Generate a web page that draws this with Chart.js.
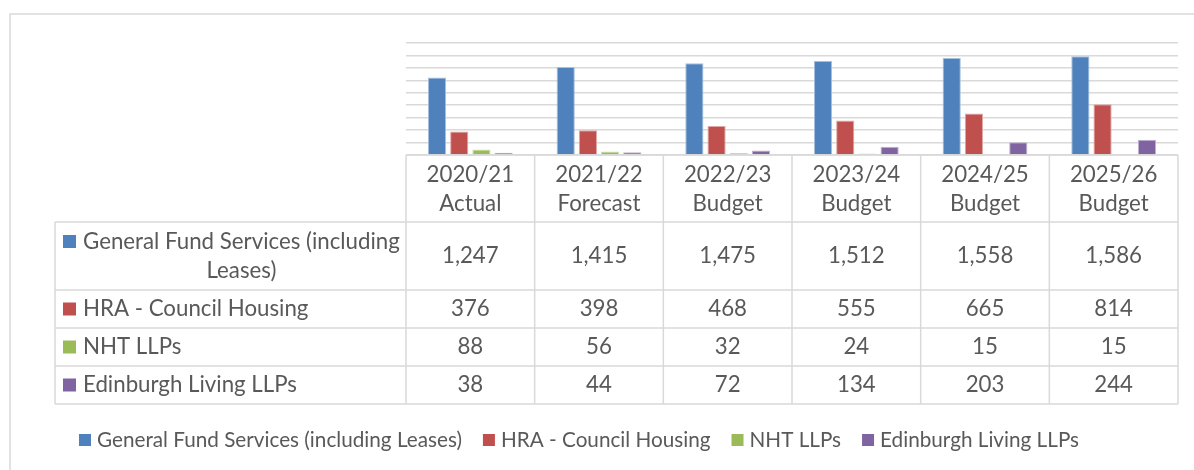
<!DOCTYPE html>
<html><head><meta charset="utf-8">
<script src="https://cdn.jsdelivr.net/npm/chart.js@4/dist/chart.umd.min.js"></script>
<style>html,body{margin:0;padding:0;background:#fff;}#wrap{position:relative;width:1194px;height:470px;}</style>
</head><body><div id="wrap"><canvas id="c" width="1194" height="470"></canvas></div>
<script>
const categories = [["2020/21","Actual"],["2021/22","Forecast"],["2022/23","Budget"],["2023/24","Budget"],["2024/25","Budget"],["2025/26","Budget"]];
const seriesNames = ["General Fund Services (including Leases)","HRA - Council Housing","NHT LLPs","Edinburgh Living LLPs"];
const generalFund = [1247,1415,1475,1512,1558,1586];
const hraCouncilHousing = [376,398,468,555,665,814];
const nhtLLPs = [88,56,32,24,15,15];
const edinburghLiving = [38,44,72,134,203,244];
const yMin = 0, yMax = 1800, yStep = 200;
const seriesColors = ['#4F81BD','#C0504D','#9BBB59','#8064A2'];
const seriesBorders = ['#A7C0DE','#E0A8A6','#CDDDAC','#BFB1D0'];
const allSeries = [generalFund, hraCouncilHousing, nhtLLPs, edinburghLiving];

const GRID = '#D9D9D9', TXT = '#595959', FAM = 'Lato, "Open Sans", sans-serif';
let fs = 21;
function fmt(v){ return v.toLocaleString('en-GB'); }
function wrap(ctx, text, maxW){
  const words = text.split(' '); const lines = []; let cur = '';
  for (const w of words){ const t = cur ? cur + ' ' + w : w;
    if (ctx.measureText(t).width > maxW && cur){ lines.push(cur); cur = w; } else cur = t; }
  if (cur) lines.push(cur); return lines;
}
const tablePlugin = {
  id: 'dataTable',
  beforeDraw(chart){
    const ctx = chart.ctx; ctx.save();
    ctx.font = '100px ' + FAM;
    fs = 100 * 317 / ctx.measureText('General Fund Services (including').width;
    ctx.strokeStyle = GRID; ctx.lineWidth = 1.5;
    ctx.beginPath(); ctx.moveTo(10, 470); ctx.lineTo(10, 14); ctx.lineTo(1194, 14); ctx.stroke();
    ctx.restore();
  },
  afterDraw(chart){
    const ctx = chart.ctx, ca = chart.chartArea, xs = chart.scales.x;
    const n = categories.length, colW = (ca.right - ca.left) / n;
    const rowB = [ca.bottom, 222, 290, 328, 366, 404];
    const tableLeft = 55;
    ctx.save();
    ctx.strokeStyle = GRID; ctx.lineWidth = 1.5;
    ctx.beginPath();
    ctx.moveTo(ca.left, rowB[0]); ctx.lineTo(ca.right, rowB[0]);
    for (let r = 1; r < rowB.length; r++){ ctx.moveTo(tableLeft, rowB[r]); ctx.lineTo(ca.right, rowB[r]); }
    ctx.moveTo(tableLeft, rowB[1]); ctx.lineTo(tableLeft, rowB[rowB.length-1]);
    for (let i = 0; i <= n; i++){ const x = ca.left + i*colW; ctx.moveTo(x, rowB[0]); ctx.lineTo(x, rowB[rowB.length-1]); }
    ctx.stroke();
    ctx.fillStyle = TXT; ctx.font = fs + 'px ' + FAM;
    ctx.textAlign = 'center'; ctx.textBaseline = 'middle';
    const lh = 29;
    categories.forEach((c, i) => {
      const cx = xs.getPixelForValue(i); const cy = (rowB[0] + rowB[1]) / 2 + 1;
      c.forEach((t, k) => ctx.fillText(t, cx, cy + (k - (c.length-1)/2) * lh));
    });
    allSeries.forEach((s, r) => {
      const cy = (rowB[r+1] + rowB[r+2]) / 2;
      s.forEach((v, i) => ctx.fillText(fmt(v), xs.getPixelForValue(i), cy));
      const lines = wrap(ctx, seriesNames[r], 322);
      const tx = tableLeft + 28;
      const y0 = cy - (lines.length-1)/2 * lh;
      ctx.fillStyle = seriesColors[r];
      ctx.fillRect(tableLeft + 8, y0 - 6.5, 13, 13);
      ctx.fillStyle = TXT;
      if (lines.length === 1){ ctx.textAlign = 'left'; ctx.fillText(lines[0], tx, y0); }
      else {
        const mw = Math.max(...lines.map(l => ctx.measureText(l).width));
        ctx.textAlign = 'center';
        lines.forEach((l, k) => ctx.fillText(l, tx + mw/2, y0 + k*lh));
      }
      ctx.textAlign = 'center';
    });
    // legend
    ctx.font = (fs * 0.93) + 'px ' + FAM;
    const ly = 440, box = 12, gapT = 6, gapI = 21;
    ctx.textAlign = 'left';
    const widths = seriesNames.map(t => box + gapT + ctx.measureText(t).width);
    const total = widths.reduce((a,b)=>a+b,0) + gapI*(widths.length-1);
    let x = 579 - total/2;
    seriesNames.forEach((t, i) => {
      ctx.fillStyle = seriesColors[i]; ctx.fillRect(x, ly - box/2, box, box);
      ctx.fillStyle = TXT; ctx.fillText(t, x + box + gapT, ly);
      x += widths[i] + gapI;
    });
    ctx.restore();
  }
};

new Chart(document.getElementById('c'), {
  type: 'bar',
  data: {
    labels: categories.map(c => c.join(' ')),
    datasets: allSeries.map((s, i) => ({
      label: seriesNames[i], data: s,
      backgroundColor: seriesColors[i], borderColor: seriesBorders[i], borderWidth: 1,
      categoryPercentage: 0.69, barPercentage: 0.82
    }))
  },
  options: {
    responsive: false, animation: false,
    layout: { padding: { left: 406, right: 16, top: 43, bottom: 315 } },
    plugins: { legend: { display: false }, tooltip: { enabled: false } },
    scales: {
      x: { display: false },
      y: { min: yMin, max: yMax, ticks: { display: false, stepSize: yStep },
           grid: { color: GRID, lineWidth: 1.5, drawTicks: false }, border: { display: false } }
    }
  },
  plugins: [tablePlugin]
});
</script></body></html>
